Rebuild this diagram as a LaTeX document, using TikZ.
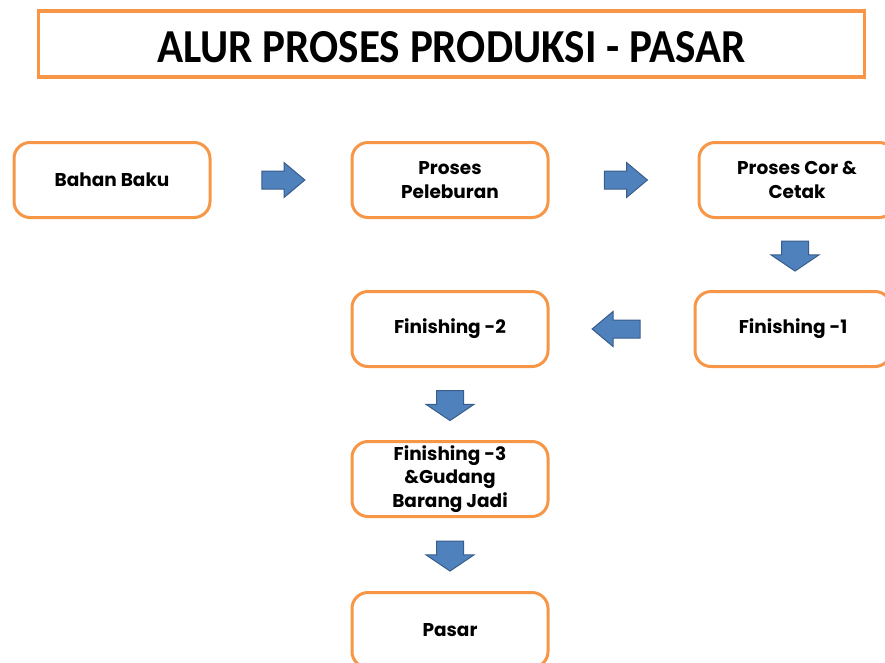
\documentclass[tikz,border=0pt]{standalone}
\usepackage{fontspec}
\setmainfont{Carlito}
\newfontfamily\boxfont{Poppins}
\usepackage{xcolor}
\usetikzlibrary{positioning, shapes.arrows, calc}

\definecolor{alurorange}{HTML}{F79646}
\definecolor{alurblue}{HTML}{4F81BD}
\definecolor{alurblueline}{HTML}{385D8A}

\begin{document}
\begin{tikzpicture}[
    x=1pt, y=1pt,
    stepbox/.style={draw=alurorange, line width=3pt, rounded corners=16pt, fill=white,
        minimum width=196pt, minimum height=75pt, inner sep=1pt, align=center,
        font=\boxfont\bfseries\fontsize{18.5}{23.5}\selectfont},
    titlebox/.style={draw=alurorange, line width=3.5pt, minimum width=826pt, minimum height=66pt,
        inner sep=0pt},
    flowarrow/.style={single arrow, draw=alurblueline, fill=alurblue, line width=1pt,
        inner sep=0pt, text width=17pt, text height=17pt, text depth=0pt,
        minimum height=43pt, single arrow head extend=8.5pt, single arrow tip angle=80},
    flowdown/.style={flowarrow, shape border rotate=270, text width=26pt, text height=6pt,
        minimum height=30pt, single arrow head extend=10.5pt, single arrow tip angle=112},
    ]
    \useasboundingbox (0,0) rectangle (885,-662);

    % Title
    \node[titlebox] (title) at (451.5,-44)
        {\raisebox{-3pt}[31pt][0pt]{\resizebox{588pt}{31pt}{\bfseries ALUR PROSES PRODUKSI - PASAR}}};

    % First row
    \node[stepbox] (bahan) at (112,-180) {Bahan Baku};
    \node[stepbox, right=139pt of bahan] (lebur) {Proses\\Peleburan};
    \node[stepbox, right=148pt of lebur] (cetak) {Proses Cor \&\\Cetak};

    % Return row and column down to the market
    \node[stepbox, below=71pt of cetak, xshift=-4pt] (fin1) {Finishing -1};
    \node[stepbox] (fin2) at (lebur |- fin1) {Finishing -2};
    \node[stepbox, below=72pt of fin2] (fin3) {Finishing -3\\\&Gudang\\Barang Jadi};
    \node[stepbox, below=73pt of fin3] (pasar) {Pasar};

    % Block arrows between the steps
    \node[flowarrow] (a1) at ($(bahan.east)!0.5!(lebur.west)+(-3,0)$) {};
    \node[flowarrow] (a2) at ($(lebur.east)!0.5!(cetak.west)+(-3,0)$) {};
    \node[flowdown] (a3) at ($(cetak.south)!0.5!(fin1.north)+(0,3)$) {};
    \node[flowarrow, shape border rotate=180, minimum height=48pt] (a4) at ($(fin1.west)!0.5!(fin2.east)$) {};
    \node[flowdown] (a5) at ($(fin2.south)!0.5!(fin3.north)+(0,3)$) {};
    \node[flowdown] (a6) at ($(fin3.south)!0.5!(pasar.north)+(0,3)$) {};
\end{tikzpicture}
\end{document}
